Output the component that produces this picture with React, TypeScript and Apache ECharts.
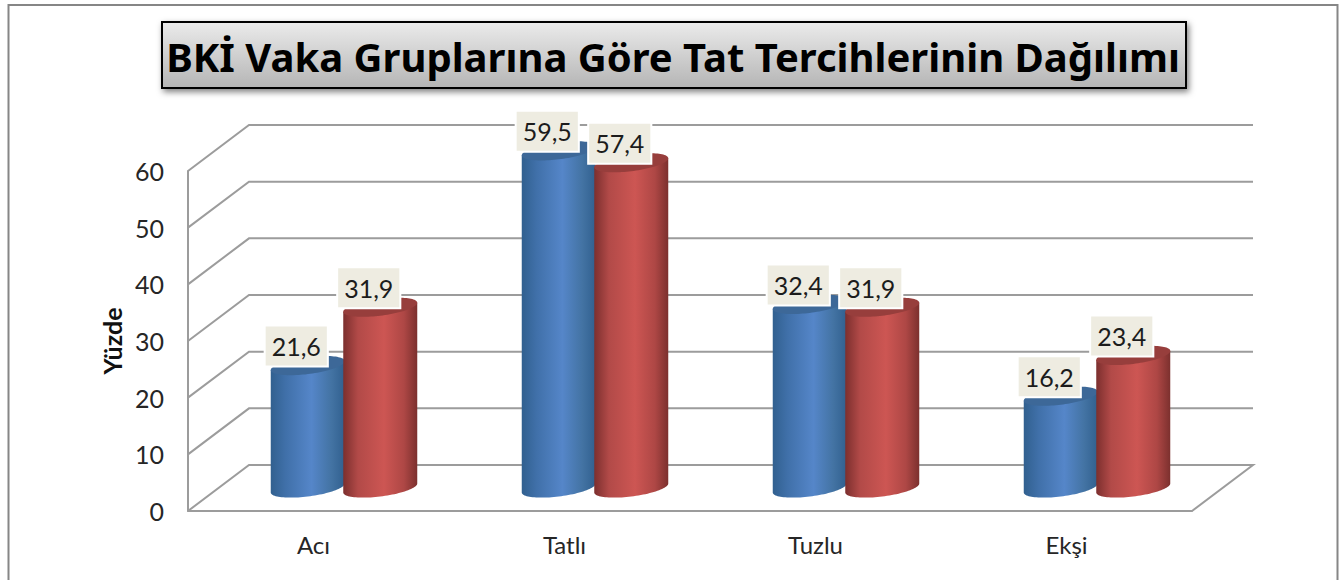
import React, { useEffect, useRef } from "react";
import * as echarts from "echarts";

const categories = ["Acı", "Tatlı", "Tuzlu", "Ekşi"];
const blueValues = [21.6, 59.5, 32.4, 16.2];
const redValues = [31.9, 57.4, 31.9, 23.4];
const gridValues = [0, 10, 20, 30, 40, 50, 60];
const titleText = "BKİ Vaka Gruplarına Göre Tat Tercihlerinin Dağılımı";
const yName = "Yüzde";

const FONT = "Lato, 'Noto Sans', sans-serif";
const TITLE_FONT = "'Noto Sans', Lato, sans-serif";
const DEPTH_X = 61;
const DEPTH_Y = -46;
const HALF_W = 37;
const BAR_STEP = 72.5;
const SHEAR = 4.5;
const MINOR = 8.5;

function ellipsePoint(cx: number, cy: number, t: number) {
  return [cx + HALF_W * Math.cos(t), cy - SHEAR * Math.cos(t) + MINOR * Math.sin(t)];
}

function cylinderSeries(values: number[], side: number, body: [number, string][], topColor: string, z: number) {
  return {
    type: "custom",
    z,
    silent: true,
    data: values.map((v, i) => [i, v]),
    encode: { x: 0, y: 1 },
    renderItem: (_p: any, api: any) => {
      const v = api.value(1);
      const base = api.coord([api.value(0), 0]);
      const top = api.coord([api.value(0), v]);
      const cx = base[0] + DEPTH_X / 2 + (side * BAR_STEP) / 2;
      const by = base[1] + DEPTH_Y / 2;
      const ty = top[1] + DEPTH_Y / 2;
      const n = 48;
      const outline: number[][] = [];
      outline.push(ellipsePoint(cx, ty, Math.PI));
      for (let k = 0; k <= n; k++) outline.push(ellipsePoint(cx, by, Math.PI - (Math.PI * k) / n));
      outline.push(ellipsePoint(cx, ty, 0));
      const cap: number[][] = [];
      for (let k = 0; k < n * 2; k++) cap.push(ellipsePoint(cx, ty, (Math.PI * k) / n));
      return {
        type: "group",
        children: [
          {
            type: "polygon",
            shape: { points: outline },
            style: {
              fill: new echarts.graphic.LinearGradient(
                0,
                0,
                1,
                0,
                body.map(([offset, color]) => ({ offset, color }))
              ),
            },
          },
          { type: "polygon", shape: { points: cap }, style: { fill: topColor } },
          {
            type: "text",
            style: {
              text: v.toFixed(1).replace(".", ","),
              x: cx - 11.5,
              y: ty - 19.5,
              align: "center",
              verticalAlign: "middle",
              fontSize: 25,
              fontFamily: FONT,
              fill: "#1c1c1c",
              backgroundColor: "#eeece1",
              borderColor: "#ffffff",
              borderWidth: 2,
              padding: [7, 6, 7, 6],
            },
          },
        ],
      };
    },
  };
}

const blueBody: [number, string][] = [
  [0, "#31608f"],
  [0.2, "#4070a9"],
  [0.55, "#5586c9"],
  [0.82, "#4373a3"],
  [1, "#31608f"],
];
const redBody: [number, string][] = [
  [0, "#7c2f2e"],
  [0.2, "#b24a48"],
  [0.55, "#cd5653"],
  [0.82, "#ae4745"],
  [1, "#7c302e"],
];

export default function App() {
  const ref = useRef<HTMLDivElement>(null);
  useEffect(() => {
    const chart = echarts.init(ref.current!, undefined, { renderer: "svg" });
    const lineColor = "#9c9c9c";
    chart.setOption({
      animation: false,
      backgroundColor: "#ffffff",
      grid: { left: 188, right: 147, top: 171, bottom: 69 },
      xAxis: {
        type: "category",
        data: categories,
        axisTick: { show: false },
        axisLine: { show: true, lineStyle: { color: lineColor, width: 2 } },
        axisLabel: { margin: 21, fontSize: 24, fontFamily: FONT, color: "#262626" },
      },
      yAxis: {
        type: "value",
        min: 0,
        max: 60,
        interval: 10,
        name: yName,
        nameLocation: "middle",
        nameGap: 64,
        nameTextStyle: { fontSize: 25, fontWeight: "bold", fontFamily: FONT, color: "#111111" },
        splitLine: { show: false },
        axisTick: { show: false },
        axisLine: { show: true, lineStyle: { color: lineColor, width: 2 } },
        axisLabel: { margin: 24, fontSize: 25, fontFamily: FONT, color: "#262626", padding: [4, 0, 0, 0] },
      },
      graphic: [
        {
          type: "rect",
          z: -1,
          shape: { x: 8.5, y: 5, width: 1329, height: 640 },
          style: { fill: "none", stroke: "#868686", lineWidth: 2 },
        },
        {
          type: "rect",
          shape: { x: 162, y: 22, width: 1024, height: 66 },
          style: {
            fill: new echarts.graphic.LinearGradient(0, 0, 0, 1, [
              { offset: 0, color: "#ebebeb" },
              { offset: 1, color: "#b5b5b5" },
            ]),
            stroke: "#000000",
            lineWidth: 2,
            shadowBlur: 6,
            shadowOffsetX: 2,
            shadowOffsetY: 3,
            shadowColor: "rgba(0,0,0,0.5)",
          },
        },
        {
          type: "text",
          x: 673,
          y: 56,
          style: {
            text: titleText,
            align: "center",
            verticalAlign: "middle",
            fontSize: 40,
            fontWeight: "bold",
            fontFamily: TITLE_FONT,
            fill: "#000000",
          },
        },
      ],
      series: [
        {
          type: "custom",
          z: 1,
          silent: true,
          data: gridValues.map((v) => [0, v]),
          encode: { x: 0, y: 1 },
          renderItem: (params: any, api: any) => {
            const sys = params.coordSys;
            const v = api.value(1);
            const y = api.coord([0, v])[1];
            const pts = [
              [sys.x, y],
              [sys.x + DEPTH_X, y + DEPTH_Y],
              [sys.x + sys.width + DEPTH_X, y + DEPTH_Y],
            ];
            if (v === 0) pts.push([sys.x + sys.width, y]);
            return {
              type: "polyline",
              shape: { points: pts },
              style: { fill: "none", stroke: lineColor, lineWidth: 2 },
            };
          },
        },
        cylinderSeries(blueValues, -1, blueBody, "#3d6898", 2),
        cylinderSeries(redValues, 1, redBody, "#973e3c", 3),
      ],
    });
    return () => chart.dispose();
  }, []);
  return <div ref={ref} style={{ position: "absolute", left: 0, top: 0, width: 1339, height: 580 }} />;
}
